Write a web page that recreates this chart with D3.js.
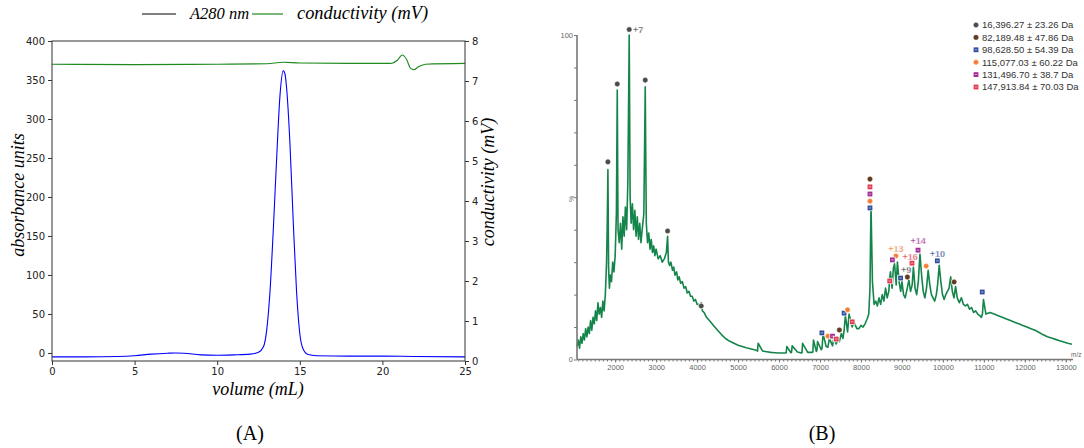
<!DOCTYPE html>
<html lang="en">
  <head>
    <meta charset="utf-8">
    <title>SEC and native MS</title>
    <script type="text/javascript" src="https://d3js.org/d3.v7.min.js"></script>
    <style type="text/css">
    body { margin: 0; background: #fff; }
    .tex { font-family: "Liberation Serif", "DejaVu Serif", serif; font-style: italic; fill: #000; }
    .roman { font-family: "Liberation Serif", "DejaVu Serif", serif; fill: #000; }
    .axA path, .axA line { stroke: #333; }
    .axA text { font-family: "DejaVu Sans", sans-serif; font-size: 10px; fill: #222; }
    .axB path, .axB line { stroke: #777; }
    .axB text { font-family: "Liberation Sans", Arial, sans-serif; font-size: 7.5px; fill: #666; }
    .leg { font-family: "Liberation Sans", Arial, sans-serif; font-size: 9.5px; fill: #333; }
    .zlab { font-family: "Liberation Sans", Arial, sans-serif; font-size: 9px; font-weight: bold; }
    </style>
  </head>
  <body>
    <svg width="1084" height="448" id="svg1"></svg>
    <script type="text/javascript">

// ---- panel A : size exclusion trace
const volume = [0, 2, 4, 5, 6, 7, 7.5, 8, 9, 10, 11, 12, 12.5, 12.8, 13.0, 13.2, 13.4, 13.6, 13.8, 14.0, 14.1, 14.2, 14.4, 14.6, 14.8, 15.0, 15.2, 15.5, 16, 18, 20, 22, 25];
const a280 =   [-5, -5, -4.5, -3.5, -1.5, -0.3, 0, -0.3, -2.5, -3, -2.5, -1.5, 1, 8, 30, 80, 160, 250, 330, 362, 358, 340, 270, 170, 80, 25, 5, -2, -3.5, -4, -4, -4.5, -5];

const condVolume = [0, 5, 10, 13, 14, 15, 18, 20.5, 20.9, 21.2, 21.45, 21.7, 21.9, 22.2, 22.6, 25];
const conductivity = [7.42, 7.41, 7.42, 7.43, 7.47, 7.45, 7.44, 7.44, 7.52, 7.65, 7.55, 7.32, 7.28, 7.36, 7.42, 7.44];

const aTicksLeft = [0, 50, 100, 150, 200, 250, 300, 350, 400];
const aTicksRight = [0, 1, 2, 3, 4, 5, 6, 7, 8];
const aTicksBottom = [0, 5, 10, 15, 20, 25];

// ---- panel B : mass spectrum (m/z, % intensity)
const mz = [1070, 1100, 1130, 1160, 1190, 1220, 1250, 1280, 1310, 1340, 1370, 1400, 1430, 1460, 1490, 1520, 1550, 1580, 1610, 1640, 1670, 1700, 1730, 1760, 1790, 1805, 1823, 1840, 1860, 1880, 1910, 1940, 1970, 2000, 2030, 2051, 2070, 2100, 2130, 2160, 2190, 2220, 2250, 2280, 2310, 2343, 2365, 2390, 2420, 2450, 2480, 2510, 2540, 2570, 2600, 2630, 2660, 2700, 2734, 2760, 2790, 2820, 2850, 2880, 2910, 2940, 2970, 3000, 3050, 3100, 3150, 3200, 3250, 3280, 3300, 3330, 3360, 3400, 3430, 3460, 3500, 3530, 3560, 3600, 3640, 3680, 3720, 3760, 3800, 3840, 3880, 3920, 3960, 4000, 4040, 4070, 4100, 4130, 4170, 4230, 4300, 4400, 4500, 4600, 4700, 4800, 4900, 5000, 5100, 5200, 5300, 5400, 5460, 5475, 5490, 5600, 5700, 5800, 5900, 6000, 6100, 6160, 6175, 6190, 6290, 6305, 6320, 6450, 6545, 6560, 6575, 6700, 6810, 6826, 6840, 6910, 6925, 6940, 7030, 7050, 7075, 7150, 7193, 7230, 7306, 7340, 7396, 7430, 7473, 7520, 7560, 7588, 7620, 7673, 7710, 7786, 7830, 7900, 7950, 8000, 8050, 8100, 8150, 8190, 8220, 8245, 8280, 8320, 8360, 8400, 8440, 8480, 8520, 8560, 8600, 8640, 8680, 8700, 8720, 8760, 8790, 8820, 8860, 8890, 8930, 8970, 9000, 9040, 9080, 9130, 9170, 9210, 9250, 9280, 9320, 9360, 9400, 9440, 9480, 9520, 9560, 9600, 9640, 9680, 9720, 9760, 9800, 9840, 9870, 9910, 9950, 9990, 10030, 10070, 10110, 10150, 10190, 10230, 10270, 10310, 10350, 10400, 10450, 10500, 10550, 10600, 10650, 10700, 10750, 10800, 10850, 10900, 10940, 10965, 10990, 11050, 11150, 11250, 11350, 11450, 11550, 11650, 11750, 11850, 11950, 12050, 12150, 12250, 12350, 12450, 12550, 12650, 12750, 12850, 12950, 13050, 13150];
const pct = [4, 6, 3.5, 7, 5, 8, 6, 9.5, 7, 10, 8, 12, 9, 13, 11, 15, 12, 17.5, 14, 16, 13, 18, 15, 20, 30, 40, 58.5, 28, 22, 26, 24, 30, 27, 32, 45, 83, 40, 36, 42, 34, 44, 38, 47, 40, 55, 100, 50, 42, 48, 40, 46, 38, 44, 37, 42, 36, 40, 45, 84, 42, 36, 39, 34, 37, 33, 35, 32, 34, 31, 32, 30, 31, 33, 38, 30, 29, 30, 27.5, 28.5, 26, 27, 24.5, 25.5, 23.5, 24, 22, 22.5, 20.5, 21, 19.5, 19.5, 18, 18.5, 17, 17, 16, 17.5, 15, 14.5, 13, 12, 10.5, 9, 7.6, 6.4, 5.6, 5, 4.4, 4, 3.6, 3.3, 3, 2.8, 2.6, 5, 2.6, 2.4, 2.2, 2.1, 2, 2, 2, 2.1, 4, 2.1, 2.2, 4.2, 2.3, 2, 2.1, 5, 2.2, 2.2, 2.3, 6, 2.5, 2.8, 5.5, 3, 3.5, 8, 4, 3.8, 6.5, 4.2, 6.8, 4.8, 5.8, 5.5, 8, 6.5, 9, 13.5, 8.5, 14, 10, 11.5, 9.5, 9.5, 10.5, 10, 11, 12.5, 14, 22, 47.5, 24, 17, 18, 16.5, 19, 17, 20, 18, 22, 19, 21, 25, 27, 22, 28, 29.5, 23, 30, 24, 21, 24, 20, 19, 22, 24.5, 21, 23, 28.5, 22, 20, 24, 32.5, 26, 21, 19, 22, 27.5, 23, 20, 19, 18, 20, 23, 29, 24, 20, 18.5, 20, 21, 22, 25.5, 21, 19, 22.5, 19, 17.5, 19, 17, 16.5, 17, 15.5, 16, 14.5, 15, 14, 13.5, 13, 14, 18.5, 14, 14.5, 14, 13.5, 13, 12.5, 12, 11.5, 11, 10.5, 10, 9.5, 9, 8.3, 7.6, 7, 6.6, 6.2, 5.8, 5.4, 5, 4.7, 4.4, 4.1];

const bTicks = [2000, 3000, 4000, 5000, 6000, 7000, 8000, 9000, 10000, 11000, 12000, 13000];

// species found in the spectrum
const species = ["16,396.27 ± 23.26 Da", "82,189.48 ± 47.86 Da", "98,628.50 ± 54.39 Da", "115,077.03 ± 60.22 Da", "131,496.70 ± 38.7 Da", "147,913.84 ± 70.03 Da"];
const speciesColor = ["#4a4a4a", "#5b3b22", "#2f4d9a", "#f27a3c", "#a32c94", "#e23a4e"];
const speciesShape = ["circle", "circle", "square", "circle", "square", "square"];

// peak markers: species index, m/z, height (%)
const markSpecies = [0, 0, 0, 0, 0, 0, 1, 1, 1, 1, 2, 2, 2, 2, 2, 2, 3, 3, 3, 3, 3, 4, 4, 4, 4, 5, 5, 5, 5, 5];
const markMz =      [1823, 2051, 2343, 2734, 3280, 4100, 8220, 9133, 10274, 7473, 8220, 9864, 10960, 8967, 7588, 7046, 8220, 8853, 9591, 7673, 7193, 8220, 9393, 8767, 7306, 8220, 9245, 8702, 7786, 7396];
const markPct =     [60.9, 84.9, 101.7, 86.1, 39.6, 16.5, 55.6, 25.4, 23.9, 9.1, 46.7, 30.4, 20.8, 25.1, 14.3, 8.2, 48.8, 31.9, 28.8, 15.3, 7.2, 51.0, 33.7, 30.7, 7.2, 53.2, 29.7, 24.2, 11.6, 6.3];

// charge state labels
const zText = ["+7", "+13", "+16", "+14", "+9", "+10"];
const zSpecies = [0, 3, 5, 4, 0, 2];
const zMz = [2560, 8853, 9200, 9393, 9100, 9864];
const zPct = [101.5, 34.0, 31.5, 36.5, 27.5, 32.5];

const svg = d3.select("#svg1");

// ================= panel A =================
const xA = d3.scaleLinear().domain([0, 25]).range([52, 465]);
const yA = d3.scaleLinear().domain([-10.3, 400]).range([361, 41]);
const yA2 = d3.scaleLinear().domain([0, 8]).range([361, 41]);

const gA = svg.append("g");

gA.append("path")
    .datum(d3.range(condVolume.length))
    .attr("fill", "none")
    .attr("stroke", "#1f8a1f")
    .attr("stroke-width", 1.1)
    .attr("d", d3.line().curve(d3.curveMonotoneX)
      .x(i => xA(condVolume[i]))
      .y(i => yA2(conductivity[i])));

gA.append("path")
    .datum(d3.range(volume.length))
    .attr("fill", "none")
    .attr("stroke", "#0000ff")
    .attr("stroke-width", 1.1)
    .attr("d", d3.line().curve(d3.curveMonotoneX)
      .x(i => xA(volume[i]))
      .y(i => yA(a280[i])));

gA.append("rect")
    .attr("x", 52).attr("y", 41).attr("width", 413).attr("height", 320)
    .attr("fill", "none").attr("stroke", "#333").attr("stroke-width", 1);

gA.append("g")
    .attr("class", "axA")
    .attr("transform", "translate(0,361)")
    .call(d3.axisBottom(xA).tickValues(aTicksBottom).tickSize(4).tickPadding(3))
    .call(g => g.select(".domain").remove());

gA.append("g")
    .attr("class", "axA")
    .attr("transform", "translate(52,0)")
    .call(d3.axisLeft(yA).tickValues(aTicksLeft).tickSize(4).tickPadding(3))
    .call(g => g.select(".domain").remove());

gA.append("g")
    .attr("class", "axA")
    .attr("transform", "translate(465,0)")
    .call(d3.axisRight(yA2).tickValues(aTicksRight).tickSize(4).tickPadding(3))
    .call(g => g.select(".domain").remove());

gA.append("text")
    .attr("class", "tex")
    .attr("font-size", 18)
    .attr("text-anchor", "middle")
    .attr("x", 258).attr("y", 395)
    .text("volume (mL)");

gA.append("text")
    .attr("class", "tex")
    .attr("font-size", 18)
    .attr("text-anchor", "middle")
    .attr("transform", "translate(24,195) rotate(-90)")
    .text("absorbance units");

gA.append("text")
    .attr("class", "tex")
    .attr("font-size", 18)
    .attr("text-anchor", "middle")
    .attr("transform", "translate(494,182) rotate(-90)")
    .text("conductivity (mV)");

// legend
gA.append("line").attr("x1", 142).attr("x2", 176).attr("y1", 14).attr("y2", 14)
    .attr("stroke", "#000").attr("stroke-width", 1.2);
gA.append("text").attr("class", "tex").attr("font-size", 16.5)
    .attr("x", 190).attr("y", 19)
    .text("A280 nm");
gA.append("line").attr("x1", 252).attr("x2", 283).attr("y1", 14).attr("y2", 14)
    .attr("stroke", "#1f8a1f").attr("stroke-width", 1.2);
gA.append("text").attr("class", "tex").attr("font-size", 18)
    .attr("x", 297).attr("y", 19).attr("textLength", 131).attr("lengthAdjust", "spacingAndGlyphs")
    .text("conductivity (mV)");

svg.append("text").attr("class", "roman").attr("font-size", 20)
    .attr("text-anchor", "middle").attr("x", 250).attr("y", 440).text("(A)");
svg.append("text").attr("class", "roman").attr("font-size", 20)
    .attr("text-anchor", "middle").attr("x", 822).attr("y", 440).text("(B)");

// ================= panel B =================
const xB = d3.scaleLinear().domain([1000, 13000]).range([574.2, 1065.8]);
const yB = d3.scaleLinear().domain([0, 100]).range([359.5, 35]);

const gB = svg.append("g");

gB.append("path")
    .datum(d3.range(mz.length))
    .attr("fill", "none")
    .attr("stroke", "#14854a")
    .attr("stroke-width", 1.6)
    .attr("stroke-linejoin", "round")
    .attr("d", d3.line()
      .x(i => xB(mz[i]))
      .y(i => yB(pct[i])));

// axes
gB.append("line").attr("x1", 577).attr("x2", 1073).attr("y1", 359.5).attr("y2", 359.5)
    .attr("stroke", "#777").attr("stroke-width", 1.3);
gB.append("line").attr("x1", 577).attr("x2", 577).attr("y1", 35).attr("y2", 359.5)
    .attr("stroke", "#777").attr("stroke-width", 1.6);

gB.append("g")
    .attr("class", "axB")
    .attr("transform", "translate(0,359.5)")
    .call(d3.axisBottom(xB).tickValues(d3.range(1100, 13200, 100)).tickSize(2).tickFormat(""))
    .call(g => g.select(".domain").remove());

gB.append("g")
    .attr("class", "axB")
    .attr("transform", "translate(0,359.5)")
    .call(d3.axisBottom(xB).tickValues(bTicks).tickSize(3).tickPadding(2).tickFormat(d3.format("d")))
    .call(g => g.select(".domain").remove());

gB.append("g")
    .attr("class", "axB")
    .attr("transform", "translate(577,0)")
    .call(d3.axisLeft(yB).tickValues(d3.range(0, 101, 10)).tickSize(3).tickPadding(1)
      .tickFormat(d => (d === 0 || d === 100) ? d : ""))
    .call(g => g.select(".domain").remove());

gB.append("text").attr("x", 1071).attr("y", 357)
    .style("font-family", "Liberation Sans, Arial, sans-serif").style("font-size", "6.5px").style("fill", "#666")
    .text("m/z");
gB.append("text")
    .attr("transform", "translate(574,199) rotate(-90)")
    .attr("text-anchor", "middle")
    .style("font-family", "Liberation Sans, Arial, sans-serif").style("font-size", "7px").style("fill", "#777")
    .text("%");

// markers
function drawMark(g, shape, color, x, y) {
  if (shape === "circle") {
    g.append("circle").attr("cx", x).attr("cy", y).attr("r", 3.2)
      .attr("fill", "#fff").attr("opacity", 0.9);
    g.append("circle").attr("cx", x).attr("cy", y).attr("r", 2.3)
      .attr("fill", color).attr("stroke", d3.color(color).brighter(0.8)).attr("stroke-width", 0.6);
  } else {
    g.append("rect").attr("x", x - 3.2).attr("y", y - 3.2).attr("width", 6.4).attr("height", 6.4)
      .attr("fill", "#fff").attr("opacity", 0.9);
    g.append("rect").attr("x", x - 2.4).attr("y", y - 2.4).attr("width", 4.8).attr("height", 4.8)
      .attr("fill", color);
    g.append("line").attr("x1", x - 1.3).attr("x2", x + 1.3).attr("y1", y).attr("y2", y)
      .attr("stroke", "#fff").attr("stroke-width", 0.7).attr("opacity", 0.8);
  }
}

const gM = gB.append("g");
markMz.forEach((m, i) => {
  const s = markSpecies[i];
  drawMark(gM, speciesShape[s], speciesColor[s], xB(m), yB(markPct[i]));
});

// charge labels
gB.selectAll(".zlab")
    .data(zText)
    .enter()
    .append("text")
    .attr("class", "zlab")
    .attr("text-anchor", "middle")
    .attr("x", (d, i) => xB(zMz[i]))
    .attr("y", (d, i) => yB(zPct[i]) + 3)
    .attr("fill", (d, i) => speciesColor[zSpecies[i]])
    .attr("stroke", "#fff").attr("stroke-width", 0.3)
    .text(d => d);

// legend
const gL = gB.append("g");
species.forEach((t, i) => {
  const y = 25 + i * 12.4;
  drawMark(gL, speciesShape[i], speciesColor[i], 976, y);
  gL.append("text").attr("class", "leg").attr("x", 982).attr("y", y + 3.4).text(t);
});

    </script>
  </body>
</html>
